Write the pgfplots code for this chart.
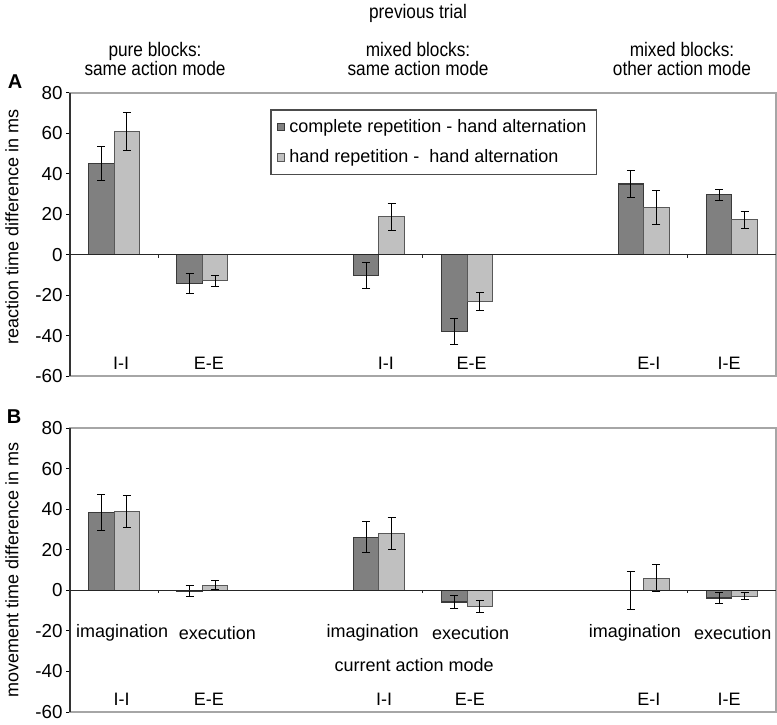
\documentclass[border=0pt]{standalone}
\usepackage{pgfplots}
\pgfplotsset{compat=1.18}
\usepackage{fontspec}
\setmainfont{Liberation Sans}
\newfontfamily\narrowfont{Liberation Sans}[FakeStretch=0.88]
\definecolor{darkbar}{HTML}{808080}
\definecolor{lightbar}{HTML}{C0C0C0}
\definecolor{edge}{HTML}{3A3A3A}

\pgfplotstableread{
x y e
0 45.2 8.4
1 -14.3 5.0
3 -10.4 6.4
4 -37.9 6.3
6 35.0 6.8
7 29.7 2.8
}\Adark
\pgfplotstableread{
x y e
0 61.0 9.2
1 -12.9 2.6
3 18.8 6.6
4 -23.1 4.6
6 23.4 8.6
7 17.3 4.3
}\Alight
\pgfplotstableread{
x y e
0 38.4 9.0
1 -0.3 2.9
3 26.2 7.5
4 -5.8 3.0
6 0.0 9.3
7 -3.8 2.7
}\Bdark
\pgfplotstableread{
x y e
0 38.9 7.7
1 2.5 2.2
3 28.0 8.0
4 -7.8 3.0
6 5.9 6.6
7 -3.0 1.7
}\Blight

\pgfplotsset{
  myaxis/.style={
    scale only axis,
    width=353pt,
    xmin=-0.5, xmax=7.5,
    ymin=-60, ymax=80,
    ytick={-60,-40,...,80},
    xtick=\empty,
    ytick pos=left,
    tick align=outside,
    major tick length=2pt,
    tick style={black, line width=0.5pt},
    axis line style={gray!70, line width=0.6pt},
    ybar=0pt,
    bar width=12.75pt,
    clip=false,
    yticklabel style={font=\fontsize{9.4}{10}\selectfont, inner xsep=1.5pt},
    /pgf/number format/assume math mode=true,
    error bars/y dir=both,
    error bars/y explicit,
    error bars/error bar style={black, line width=0.5pt},
    error bars/error mark options={black, line width=0.5pt, mark size=2pt, rotate=90},
  },
  darkst/.style={fill=darkbar, draw=edge, line width=0.6pt},
  lightst/.style={fill=lightbar, draw=edge!85, line width=0.6pt},
}

\begin{document}
\begin{tikzpicture}
\path[use as bounding box] (0,0) rectangle (388.5pt,-362pt);

% headers
\node[font=\narrowfont\fontsize{9.8}{10}\selectfont] at (209pt,-6.5pt) {previous trial};
\node[font=\narrowfont\fontsize{9.8}{9.7}\selectfont, align=center] at (77.5pt,-29.5pt) {pure blocks:\\same action mode};
\node[font=\narrowfont\fontsize{9.8}{9.7}\selectfont, align=center] at (209pt,-29.5pt) {mixed blocks:\\same action mode};
\node[font=\narrowfont\fontsize{9.8}{9.7}\selectfont, align=center] at (341pt,-29.5pt) {mixed blocks:\\other action mode};

\node[font=\bfseries\fontsize{10}{10}\selectfont] at (7.5pt,-41pt) {A};
\node[font=\bfseries\fontsize{10}{10}\selectfont] at (7pt,-208.5pt) {B};

\node[rotate=90, font=\fontsize{9}{10}\selectfont] at (6pt,-113.5pt) {reaction time difference in ms};
\node[rotate=90, font=\fontsize{9}{10}\selectfont] at (6pt,-285pt) {movement time difference in ms};

% Panel A
\begin{axis}[myaxis, at={(35pt,-188pt)}, anchor=south west, height=141.5pt,
  legend style={at={(rel axis cs:0.284,0.942)}, anchor=north west,
    draw=black!70, line width=0.6pt, fill=white,
    font=\fontsize{9}{10}\selectfont,
    row sep=3.2pt, inner xsep=3pt, inner ysep=2.5pt,
    /tikz/every even column/.append style={column sep=0pt}},
  legend cell align=left,
  legend image code/.code={\draw[#1, line width=0.5pt] (0pt,-1.8pt) rectangle (3.6pt,1.8pt);},
]
\addplot[darkst] table[x=x, y=y, y error=e] {\Adark};
\addplot[lightst] table[x=x, y=y, y error=e] {\Alight};
\legend{complete repetition - hand alternation, hand repetition -\ \ hand alternation}
\draw[black!80, line width=0.6pt] (rel axis cs:0,0) -- (rel axis cs:0,1);
\draw[black!85, line width=0.6pt] (axis cs:-0.5,0) -- (axis cs:7.5,0);
\draw[black!85, line width=0.5pt] (axis cs:0.5,0) -- ++(0pt,-1.6pt);
\draw[black!85, line width=0.5pt] (axis cs:3.5,0) -- ++(0pt,-1.6pt);
\draw[black!85, line width=0.5pt] (axis cs:6.5,0) -- ++(0pt,-1.6pt);
\node[font=\fontsize{9}{10}\selectfont] at (axis cs:0.08,-53.6) {I-I};
\node[font=\fontsize{9}{10}\selectfont] at (axis cs:1.075,-53.6) {E-E};
\node[font=\fontsize{9}{10}\selectfont] at (axis cs:3.08,-53.6) {I-I};
\node[font=\fontsize{9}{10}\selectfont] at (axis cs:4.05,-53.6) {E-E};
\node[font=\fontsize{9}{10}\selectfont] at (axis cs:6.06,-53.6) {E-I};
\node[font=\fontsize{9}{10}\selectfont] at (axis cs:6.97,-53.6) {I-E};
\end{axis}

% Panel B
\begin{axis}[myaxis, at={(35pt,-356pt)}, anchor=south west, height=142pt]
\addplot[darkst] table[x=x, y=y, y error=e] {\Bdark};
\addplot[lightst] table[x=x, y=y, y error=e] {\Blight};
\draw[black!80, line width=0.6pt] (rel axis cs:0,0) -- (rel axis cs:0,1);
\draw[black!85, line width=0.6pt] (axis cs:-0.5,0) -- (axis cs:7.5,0);
\draw[black!85, line width=0.5pt] (axis cs:0.5,0) -- ++(0pt,-1.6pt);
\draw[black!85, line width=0.5pt] (axis cs:3.5,0) -- ++(0pt,-1.6pt);
\draw[black!85, line width=0.5pt] (axis cs:6.5,0) -- ++(0pt,-1.6pt);
\node[font=\fontsize{9}{10}\selectfont] at (axis cs:0.09,-21.2) {imagination};
\node[font=\fontsize{9}{10}\selectfont] at (axis cs:1.17,-21.2) {execution};
\node[font=\fontsize{9}{10}\selectfont] at (axis cs:2.93,-21.2) {imagination};
\node[font=\fontsize{9}{10}\selectfont] at (axis cs:4.04,-21.2) {execution};
\node[font=\fontsize{9}{10}\selectfont] at (axis cs:5.90,-21.2) {imagination};
\node[font=\fontsize{9}{10}\selectfont] at (axis cs:7.01,-21.2) {execution};
\node[font=\fontsize{9}{10}\selectfont] at (axis cs:3.40,-37.0) {current action mode};
\node[font=\fontsize{9}{10}\selectfont] at (axis cs:0.086,-53.7) {I-I};
\node[font=\fontsize{9}{10}\selectfont] at (axis cs:1.075,-53.7) {E-E};
\node[font=\fontsize{9}{10}\selectfont] at (axis cs:3.06,-53.7) {I-I};
\node[font=\fontsize{9}{10}\selectfont] at (axis cs:4.03,-53.7) {E-E};
\node[font=\fontsize{9}{10}\selectfont] at (axis cs:6.06,-53.7) {E-I};
\node[font=\fontsize{9}{10}\selectfont] at (axis cs:6.97,-53.7) {I-E};
\end{axis}
\end{tikzpicture}
\end{document}
